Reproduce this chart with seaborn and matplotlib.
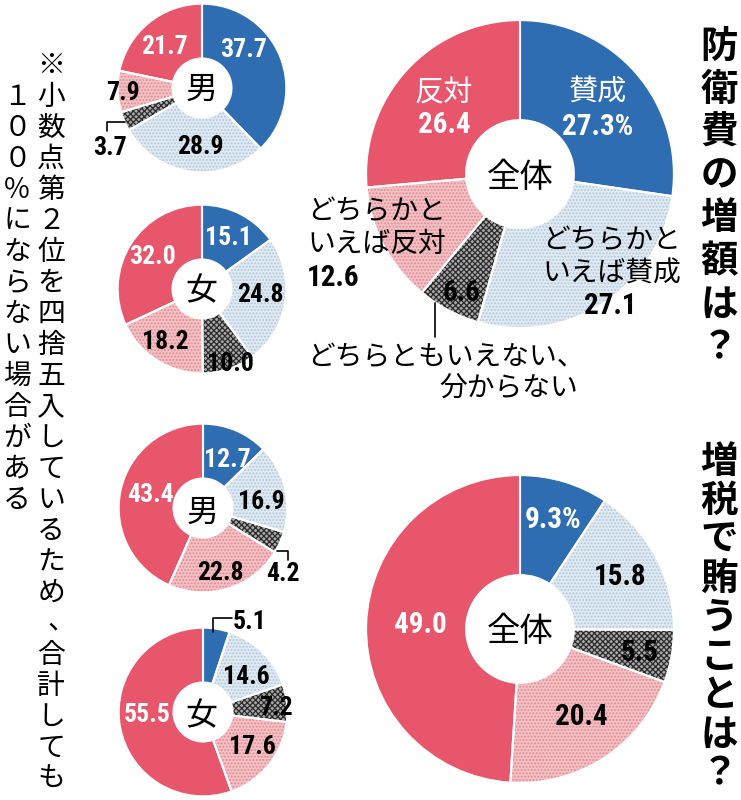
"""Donut charts: defence budget increase / funding by tax increase (all, men, women)."""

import matplotlib
matplotlib.use("Agg")
import matplotlib.pyplot as plt
from matplotlib import font_manager
from matplotlib.font_manager import FontProperties
import seaborn as sns

# ---- data -------------------------------------------------------------
categories = ["賛成", "どちらかといえば賛成", "どちらともいえない、分からない",
              "どちらかといえば反対", "反対"]

defense_all = [27.3, 27.1, 6.6, 12.6, 26.4]
defense_men = [37.7, 28.9, 3.7, 7.9, 21.7]
defense_women = [15.1, 24.8, 10.0, 18.2, 32.0]

tax_all = [9.3, 15.8, 5.5, 20.4, 49.0]
tax_men = [12.7, 16.9, 4.2, 22.8, 43.4]
tax_women = [5.1, 14.6, 7.2, 17.6, 55.5]

title_defense = "防衛費の増額は？"
title_tax = "増税で賄うことは？"
note_lines = ["※小数点第２位を四捨五入しているため、合計しても",
              "１００％にならない場合がある"]

# ---- style ------------------------------------------------------------
sns.set_theme(style="white")
plt.rcParams["font.family"] = ["Noto Sans CJK JP", "DejaVu Sans"]
plt.rcParams["hatch.linewidth"] = 0.9


def pick_number_font():
    """Find a narrow bold face for the figures, like the newspaper's one."""
    best, best_rank = None, 99
    for f in font_manager.fontManager.ttflist:
        tag = (f.name + " " + f.fname).lower()
        narrow = "condensed" in tag or "narrow" in tag or str(f.stretch) in (
            "condensed", "semi-condensed", "extra-condensed")
        if not narrow or "italic" in tag or "oblique" in tag:
            continue
        w = f.weight if isinstance(f.weight, int) else (700 if "bold" in str(f.weight) else 400)
        rank = 0 if "roboto" in tag else 1 if "liberation" in tag else 2 if "open" in tag else 3
        rank = rank * 10 + (0 if 600 <= w < 800 else 5)
        if rank < best_rank:
            best, best_rank = f, rank
    if best is None:
        return FontProperties(family="DejaVu Sans", weight="bold"), 0.78
    scale = 0.85 if "dejavu" in best.fname.lower() else 1.0
    return FontProperties(fname=best.fname), scale


NUM_FP, NUM_SCALE = pick_number_font()
BIG, SMALL = 21, 18.5

FACE = ["#2f6db3", "#e0eaf2", "#a9a9a9", "#f3c0c3", "#e8566c"]
HATCH = [None, ".....", "xxxxxx", ".....", None]
HATCH_COL = ["#2f6db3", "#b0c6da", "#2a2a2a", "#e08a93", "#e8566c"]
TEXT_COL = ["white", "black", "black", "black", "white"]

W, H = 741, 800
fig = plt.figure(figsize=(W / 100, H / 100), dpi=100)
fig.patch.set_facecolor("white")


def donut(values, cx, cy, r):
    ax = fig.add_axes([(cx - r) / W, 1 - (cy + r) / H, 2 * r / W, 2 * r / H])
    kw = dict(startangle=90, counterclock=False, radius=1)
    wedges, _ = ax.pie(values, colors=FACE, wedgeprops=dict(width=0.65, linewidth=0), **kw)
    for w, h, hc in zip(wedges, HATCH, HATCH_COL):
        if h:
            w.set_hatch(h)
            w.set_edgecolor(hc)
    ax.pie(values, colors=["none"] * len(values),
           wedgeprops=dict(width=0.65, edgecolor="white", linewidth=1.5), **kw)
    ax.set_xlim(-1.02, 1.02)
    ax.set_ylim(-1.02, 1.02)
    ax.axis("off")
    return ax


donut(defense_all, 520, 174, 157)
donut(defense_men, 202, 88, 86)
donut(defense_women, 202, 289, 86)
donut(tax_all, 520, 629, 157)
donut(tax_men, 203, 508, 86)
donut(tax_women, 203, 712, 86)

# overlay canvas in pixel coordinates for labels
cv = fig.add_axes([0, 0, 1, 1])
cv.set_xlim(0, W)
cv.set_ylim(H, 0)
cv.axis("off")
cv.patch.set_alpha(0)


def num(x, y, v, color="black", size=SMALL, suffix="", ha="center"):
    fp = NUM_FP.copy()
    fp.set_size(size * NUM_SCALE)
    cv.text(x, y, f"{v:.1f}{suffix}", ha=ha, va="center", color=color, fontproperties=fp)


def jp(x, y, s, size=20, color="black", ha="center", weight="normal"):
    cv.text(x, y, s, ha=ha, va="center", color=color, fontsize=size, fontweight=weight)


def vtext(x, y0, s, pitch, size, weight="normal"):
    for k, ch in enumerate(s):
        dx, dy = 0, 0
        if ch in "、。":
            dx, dy = pitch * 0.35, -pitch * 0.12
        cv.text(x + dx, y0 + k * pitch + dy, ch, ha="center", va="center",
                fontsize=size, fontweight=weight, color="black")


# --- 防衛費 全体
jp(598, 93, "賛成", 21, "white")
num(598, 127, defense_all[0], TEXT_COL[0], BIG, "%")
jp(612, 240, "どちらかと", 20)
jp(612, 274, "いえば賛成", 20)
num(610, 306, defense_all[1], TEXT_COL[1], BIG)
num(462, 293, defense_all[2], TEXT_COL[2], BIG)
jp(307, 211, "どちらかと", 20, ha="left")
jp(307, 244, "いえば反対", 20, ha="left")
num(307, 278, defense_all[3], "black", BIG, ha="left")
jp(444, 93, "反対", 21, "white")
num(444, 125, defense_all[4], TEXT_COL[4], BIG)
jp(520, 177, "全体", 24)
cv.plot([435, 435], [303, 337], color="black", lw=1.2)
jp(307, 357, "どちらともいえない、", 20, ha="left")
jp(578, 388, "分からない", 20, ha="right")

# --- 防衛費 男
num(244, 50, defense_men[0], TEXT_COL[0])
num(200, 147, defense_men[1], TEXT_COL[1])
num(110, 148, defense_men[2], "black")
cv.plot([125, 107, 107], [122, 122, 131], color="black", lw=1.2)
num(123, 93, defense_men[3], TEXT_COL[3])
num(164, 47, defense_men[4], TEXT_COL[4])
jp(202, 90, "男", 23)

# --- 防衛費 女
num(228, 238, defense_women[0], TEXT_COL[0])
num(260, 295, defense_women[1], TEXT_COL[1])
num(230, 364, defense_women[2], TEXT_COL[2])
num(165, 342, defense_women[3], TEXT_COL[3])
num(153, 257, defense_women[4], TEXT_COL[4])
jp(201, 291, "女", 23)

# --- 増税 全体
num(553, 520, tax_all[0], TEXT_COL[0], BIG, "%")
num(620, 577, tax_all[1], TEXT_COL[1], BIG)
num(640, 653, tax_all[2], TEXT_COL[2], BIG)
num(581, 717, tax_all[3], TEXT_COL[3], BIG)
num(420, 625, tax_all[4], TEXT_COL[4], BIG)
jp(520, 632, "全体", 24)

# --- 増税 男
num(227, 460, tax_men[0], TEXT_COL[0])
num(261, 502, tax_men[1], TEXT_COL[1])
num(283, 574, tax_men[2], "black")
cv.plot([277, 288, 288], [551, 551, 560], color="black", lw=1.2)
num(220, 573, tax_men[3], TEXT_COL[3])
num(150, 495, tax_men[4], TEXT_COL[4])
jp(203, 513, "男", 23)

# --- 増税 女
num(250, 622, tax_women[0], "black")
cv.plot([213, 213, 232], [632, 618, 618], color="black", lw=1.2)
num(246, 677, tax_women[1], TEXT_COL[1])
num(276, 708, tax_women[2], TEXT_COL[2])
num(252, 747, tax_women[3], TEXT_COL[3])
num(147, 715, tax_women[4], TEXT_COL[4])
jp(201, 716, "女", 23)

# --- vertical titles and note
vtext(719, 46, title_defense, 43, 27, "bold")
vtext(719, 461, title_tax, 39, 27, "bold")
vtext(51, 66, note_lines[0], 31, 20)
vtext(17, 97, note_lines[1], 31, 20)

fig.savefig("out.png", dpi=100)
